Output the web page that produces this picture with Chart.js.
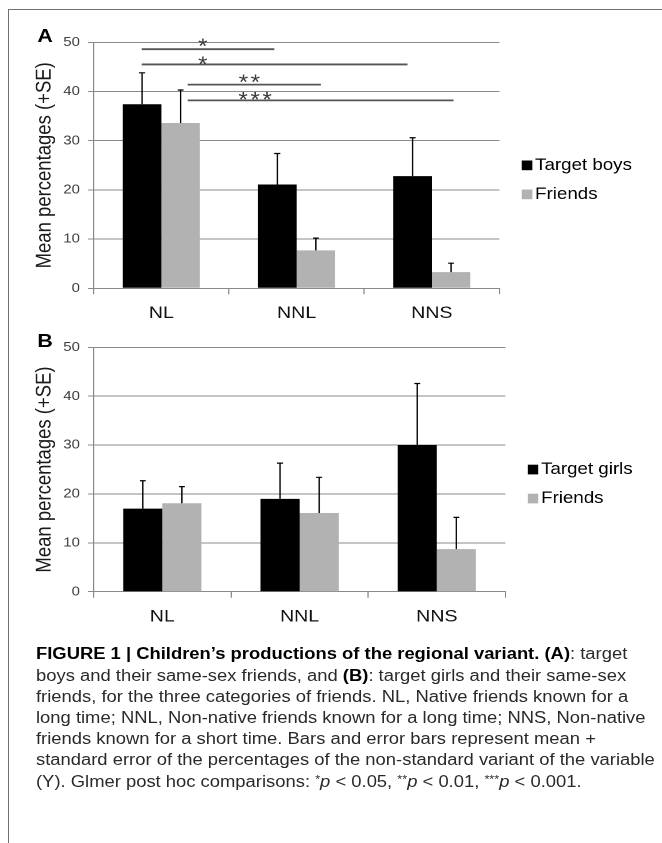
<!DOCTYPE html>
<html>
<head>
<meta charset="utf-8">
<script src="https://cdn.jsdelivr.net/npm/chart.js@4.4.0/dist/chart.umd.min.js"></script>
<style>
    body { margin: 0; background: #fff; width: 662px; height: 843px; overflow: hidden; position: relative; }
    #frame { position: absolute; left: 8px; top: 9px; width: 700px; height: 900px; border-left: 1.5px solid #707070; border-top: 1.5px solid #707070; }
    /* the whole figure is a bit wider than tall in the original, so stretch it */
    #page { position: absolute; left: 0; top: 0; width: 576px; height: 843px; transform: scaleX(1.15); transform-origin: 0 0; }
    canvas { position: absolute; left: 0; }
    #chartA { top: 0; }
    #chartB { top: 330px; }
    #caption {
        position: absolute; left: 31.3px; top: 643.4px; white-space: nowrap;
        font-family: "Liberation Sans", Arial, Helvetica, sans-serif; font-size: 16px; line-height: 21.2px; color: #2a2a2a;
    }
    #caption b { color: #000; }
    #caption sup { font-size: 11px; vertical-align: 4px; line-height: 0; }
</style>
</head>
<body>
<div id="frame"></div>
<div id="page">
    <canvas id="chartA" width="576" height="330"></canvas>
    <canvas id="chartB" width="576" height="300"></canvas>
    <div id="caption"><b>FIGURE 1 | Children’s productions of the regional variant. (A)</b>: target<br>boys and their same-sex friends, and <b>(B)</b>: target girls and their same-sex<br>friends, for the three categories of friends. NL, Native friends known for a<br>long time; NNL, Non-native friends known for a long time; NNS, Non-native<br>friends known for a short time. Bars and error bars represent mean +<br>standard error of the percentages of the non-standard variant of the variable<br>(Y). Glmer post hoc comparisons: <sup>*</sup><i>p</i> &lt; 0.05, <sup>**</sup><i>p</i> &lt; 0.01, <sup>***</sup><i>p</i> &lt; 0.001.</div>
</div>
<script>
const FONT = '"Liberation Sans", Arial, Helvetica, sans-serif';

// data
const categories = ['NL', 'NNL', 'NNS'];
const yMin = 0;
const yMax = 50;
const yStep = 10;

const boysMean = [37.4, 21.1, 22.8];
const boysSE = [6.4, 6.3, 7.8];
const boysFriendsMean = [33.6, 7.7, 3.3];
const boysFriendsSE = [6.7, 2.5, 1.8];

const girlsMean = [17.0, 19.0, 30.0];
const girlsSE = [5.7, 7.3, 12.6];
const girlsFriendsMean = [18.1, 16.1, 8.7];
const girlsFriendsSE = [3.4, 7.3, 6.5];

// post hoc comparisons in panel A (x as category position, y in %)
const compFrom = [-0.145, -0.145, 0.195, 0.195];
const compTo = [0.836, 1.82, 1.179, 2.16];
const compY = [48.6, 45.5, 41.4, 38.2];
const compStars = ['*', '*', '**', '***'];
const starX = [0.306, 0.306, 0.651, 0.693];
const starY = [50.1, 46.5, 42.8, 39.3];

const BLACK = '#000000';
const GREY = '#b2b2b2';
const GRID = '#8a8a8a';

// error bars: mean + SE with a small cap
const errorBars = {
    id: 'errorBars',
    afterDatasetsDraw(chart) {
        const ctx = chart.ctx;
        const y = chart.scales.y;
        ctx.save();
        ctx.strokeStyle = '#000';
        ctx.lineWidth = 1.2;
        chart.data.datasets.forEach((ds, i) => {
            chart.getDatasetMeta(i).data.forEach((bar, j) => {
                const top = y.getPixelForValue(ds.data[j] + ds.se[j]);
                ctx.beginPath();
                ctx.moveTo(bar.x, bar.y);
                ctx.lineTo(bar.x, top);
                ctx.moveTo(bar.x - 2.6, top);
                ctx.lineTo(bar.x + 2.6, top);
                ctx.stroke();
            });
        });
        ctx.restore();
    }
};

// legend at the right and the panel letter
const sideLegend = {
    id: 'sideLegend',
    afterDraw(chart, args, opts) {
        const {ctx, chartArea} = chart;
        const mid = (chartArea.top + chartArea.bottom) / 2;
        ctx.save();
        ctx.font = `16.3px ${FONT}`;
        ctx.textBaseline = 'middle';
        ctx.textAlign = 'left';
        chart.data.datasets.forEach((ds, i) => {
            const cy = mid + i * 29;
            ctx.fillStyle = ds.backgroundColor;
            ctx.fillRect(chartArea.right + 19.4, cy - 4.8, 9.2, 9.7);
            ctx.fillStyle = '#000';
            ctx.fillText(ds.label, chartArea.right + 31, cy);
        });
        ctx.font = `bold 18.5px ${FONT}`;
        ctx.textAlign = 'center';
        ctx.fillText(opts.letter, chartArea.left - 42.3, chartArea.top - 5.6);
        ctx.restore();
    }
};

// significance lines and stars
const comparisons = {
    id: 'comparisons',
    afterDraw(chart, args, opts) {
        if (!opts.show) return;
        const {ctx} = chart;
        const x = chart.scales.x;
        const y = chart.scales.y;
        ctx.save();
        ctx.strokeStyle = '#555';
        ctx.lineWidth = 1.8;
        compY.forEach((v, i) => {
            const py = y.getPixelForValue(v);
            ctx.beginPath();
            ctx.moveTo(x.getPixelForValue(compFrom[i]), py);
            ctx.lineTo(x.getPixelForValue(compTo[i]), py);
            ctx.stroke();
        });
        const size = 21;
        const gap = 2.2;
        ctx.font = `${size}px ${FONT}`;
        ctx.letterSpacing = `${gap}px`;
        ctx.fillStyle = '#3a3a3a';
        ctx.textAlign = 'center';
        ctx.textBaseline = 'alphabetic';
        compStars.forEach((s, i) => {
            ctx.fillText(s, x.getPixelForValue(starX[i]) + gap / 2, y.getPixelForValue(starY[i]) + size * 0.54);
        });
        ctx.restore();
    }
};

const makeChart = (id, letter, labels, means, ses, padding, showComparisons) => {
    return new Chart(document.getElementById(id), {
        type: 'bar',
        data: {
            labels: categories,
            datasets: [{
                label: labels[0],
                data: means[0],
                se: ses[0],
                backgroundColor: BLACK,
                borderWidth: 0,
                categoryPercentage: 0.57,
                barPercentage: 1.0
            }, {
                label: labels[1],
                data: means[1],
                se: ses[1],
                backgroundColor: GREY,
                borderWidth: 0,
                categoryPercentage: 0.57,
                barPercentage: 1.0
            }]
        },
        options: {
            responsive: false,
            animation: false,
            devicePixelRatio: 2,
            layout: { padding },
            plugins: {
                legend: { display: false },
                tooltip: { enabled: false },
                sideLegend: { letter },
                comparisons: { show: showComparisons }
            },
            scales: {
                x: {
                    afterFit: (scale) => { scale.height = 30; },
                    grid: {
                        display: true,
                        offset: true,
                        drawOnChartArea: false,
                        drawTicks: true,
                        tickLength: 6,
                        color: GRID
                    },
                    border: { display: true, color: GRID, width: 1 },
                    ticks: {
                        font: { family: FONT, size: 17 },
                        color: '#111',
                        padding: 8.8
                    }
                },
                y: {
                    min: yMin,
                    max: yMax,
                    afterFit: (scale) => { scale.width = 53.5; },
                    grid: {
                        color: GRID,
                        lineWidth: 1,
                        drawTicks: true,
                        tickLength: 5
                    },
                    border: { display: true, color: GRID, width: 1 },
                    ticks: {
                        stepSize: yStep,
                        font: { family: FONT, size: 13 },
                        color: '#404040',
                        padding: 7
                    },
                    title: {
                        display: true,
                        text: 'Mean percentages (+SE)',
                        font: { family: FONT, size: 18.5 },
                        color: '#1a1a1a',
                        padding: { top: 0, bottom: 0 }
                    }
                }
            }
        },
        plugins: [errorBars, sideLegend, comparisons]
    });
};

makeChart('chartA', 'A', ['Target boys', 'Friends'],
    [boysMean, boysFriendsMean], [boysSE, boysFriendsSE],
    { left: 28, top: 42.3, right: 141.7, bottom: 11.7 }, true);

makeChart('chartB', 'B', ['Target girls', 'Friends'],
    [girlsMean, girlsFriendsMean], [girlsSE, girlsFriendsSE],
    { left: 28, top: 17.3, right: 136.5, bottom: 8.3 }, false);
</script>
</body>
</html>
